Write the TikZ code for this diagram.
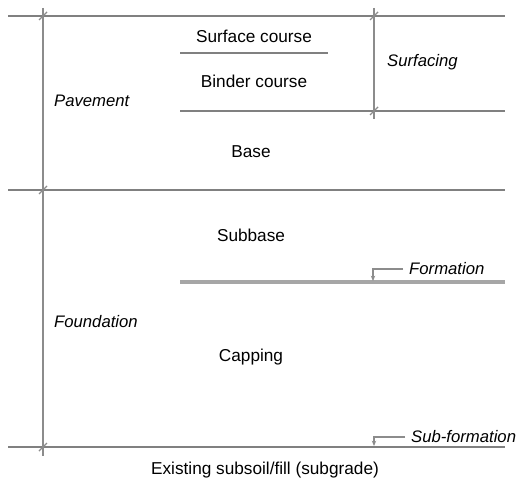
\documentclass[tikz,border=0pt]{standalone}
\usepackage{fontspec}
\setmainfont{Liberation Sans}
\usetikzlibrary{positioning, arrows.meta}

\begin{document}
\begin{tikzpicture}[x=0.02cm, y=-0.02cm,
        layerline/.style={draw=black!50, line width=1.1pt},
        formline/.style={draw=black!35, line width=2pt},
        dimline/.style={draw=black!45, line width=0.8pt},
        layertext/.style={font=\fontsize{9.8}{11}\selectfont, anchor=center},
        desctext/.style={font=\fontsize{9.5}{11}\selectfont\itshape, anchor=west},
        leader/.style={draw=black!45, line width=0.6pt, -{Stealth[length=3pt, width=2.5pt]}}
    ]
        \useasboundingbox (0,0) rectangle (520,489);
        \newcommand{\slashmark}[1]{\draw[dimline, shift={(#1)}] (-4,4) -- (4,-4);}

        % layer boundaries
        \coordinate (topL) at (8,16);     \coordinate (topR) at (505,16);
        \coordinate (scL) at (180,53);    \coordinate (scR) at (328,53);
        \coordinate (bcL) at (180,111);   \coordinate (bcR) at (505,111);
        \coordinate (baseL) at (8,190);   \coordinate (baseR) at (505,190);
        \coordinate (fmL) at (180,282);   \coordinate (fmR) at (505,282);
        \coordinate (sfL) at (8,447);     \coordinate (sfR) at (505,447);

        % dimension lines
        \coordinate (pavA) at (43,8);     \coordinate (pavB) at (43,456);
        \coordinate (surA) at (374,8);    \coordinate (surB) at (374,119);
        \coordinate (fmArr) at (373,281); \coordinate (sfArr) at (374,446);

        \draw[layerline] (topL) -- (topR);
        \draw[layerline] (scL) -- (scR);
        \draw[layerline] (bcL) -- (bcR);
        \draw[layerline] (baseL) -- (baseR);
        \draw[formline] (fmL) -- (fmR);
        \draw[layerline] (sfL) -- (sfR);

        \draw[dimline] (pavA) -- (pavB);
        \draw[dimline] (surA) -- (surB);
        \slashmark{43,16}
        \slashmark{43,190}
        \slashmark{43,447}
        \slashmark{374,16}
        \slashmark{374,111}

        \node[layertext] (surface) at (254,36) {Surface course};
        \node[layertext] (binder) at (254,81) {Binder course};
        \node[layertext] (base) at (251,152) {Base};
        \node[layertext] (subbase) at (251,235) {Subbase};
        \node[layertext] (capping) at (251,357) {Capping};
        \node[layertext] (subgrade) at (265,470) {Existing subsoil/fill (subgrade)};

        \node[desctext] (pavement) at (48,101) {Pavement};
        \node[desctext] (foundation) at (48,322) {Foundation};
        \node[desctext] (surfacing) at (381,62) {Surfacing};
        \node[desctext] (formation) at (403,269) {Formation};
        \node[desctext] (subform) at (405,437) {Sub-formation};

        \draw[leader] (formation.west) -| (fmArr);
        \draw[leader] (subform.west) -| (sfArr);
\end{tikzpicture}
\end{document}
